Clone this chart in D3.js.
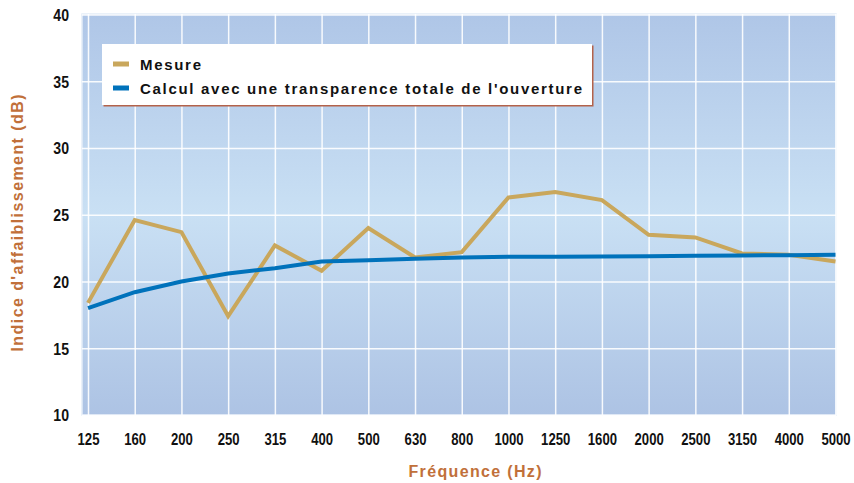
<!DOCTYPE html>
<html>
<head>
<meta charset="utf-8">
<script src="https://cdn.jsdelivr.net/npm/d3@7"></script>
<style>
  html, body { margin: 0; padding: 0; background: #ffffff; }
  svg { display: block; }
  text { font-family: "Liberation Sans", Arial, Helvetica, sans-serif; font-weight: bold; }
</style>
</head>
<body>
<svg id="chart" width="854" height="483"></svg>
<script>
// Third-octave band centre frequencies (Hz)
const frequencies = ["125", "160", "200", "250", "315", "400", "500", "630", "800",
  "1000", "1250", "1600", "2000", "2500", "3150", "4000", "5000"];

// Measured sound reduction index (dB)
const mesure = [18.4, 24.6, 23.7, 17.4, 22.7, 20.8, 24.0, 21.8, 22.2,
  26.3, 26.7, 26.1, 23.5, 23.3, 22.1, 22.0, 21.5];

// Calculated with full transparency of the opening (dB)
const calcul = [18.0, 19.2, 20.0, 20.6, 21.0, 21.5, 21.6, 21.7, 21.8,
  21.85, 21.85, 21.88, 21.9, 21.92, 21.95, 21.97, 22.0];

const yTicks = [10, 15, 20, 25, 30, 35, 40];

const seriesNames = ["Mesure", "Calcul avec une transparence totale de l'ouverture"];
const seriesColors = ["#C9A75C", "#0072BB"];

const svg = d3.select("#chart");
const plot = { left: 82, right: 836, top: 14, bottom: 415 };

const x = d3.scalePoint().domain(frequencies).range([88, 835.5]);
const y = d3.scaleLinear().domain([10, 40]).range([415, 14.5]);

// Background gradient of the plotting area
const defs = svg.append("defs");
const grad = defs.append("linearGradient")
  .attr("id", "bg").attr("x1", 0).attr("y1", 0).attr("x2", 0).attr("y2", 1);
grad.append("stop").attr("offset", "0%").attr("stop-color", "#AFC6E7");
grad.append("stop").attr("offset", "50%").attr("stop-color", "#C9E0F4");
grad.append("stop").attr("offset", "100%").attr("stop-color", "#ADC3E4");

svg.append("rect")
  .attr("x", plot.left).attr("y", plot.top)
  .attr("width", plot.right - plot.left).attr("height", plot.bottom - plot.top)
  .attr("fill", "url(#bg)")
  .attr("stroke", "#E4EDF8").attr("stroke-width", 1.5);

// Gridlines
svg.append("g")
  .attr("transform", `translate(0,${plot.bottom})`)
  .call(d3.axisBottom(x).tickSize(-(plot.bottom - plot.top)).tickFormat(""))
  .call(g => g.select(".domain").remove())
  .call(g => g.selectAll("line").attr("stroke", "#FFFFFF").attr("stroke-opacity", 0.9).attr("stroke-width", 1.5));

svg.append("g")
  .attr("transform", `translate(${plot.left},0)`)
  .call(d3.axisLeft(y).tickValues(yTicks).tickSize(-(plot.right - plot.left)).tickFormat(""))
  .call(g => g.select(".domain").remove())
  .call(g => g.selectAll("line").attr("stroke", "#FFFFFF").attr("stroke-opacity", 0.9).attr("stroke-width", 1.5));

// Condense bold labels horizontally
function condense(sel, factor) {
  sel.each(function () {
    const w = this.getComputedTextLength();
    d3.select(this).attr("textLength", w * factor).attr("lengthAdjust", "spacingAndGlyphs");
  });
}

// X axis labels
const xAxis = svg.append("g")
  .attr("transform", `translate(0,${plot.bottom})`)
  .call(d3.axisBottom(x).tickSize(0).tickPadding(0))
  .call(g => g.select(".domain").remove());
xAxis.selectAll("text")
  .attr("y", 29.5).attr("dy", 0)
  .attr("fill", "#111").style("font-size", "16px")
  .call(condense, 0.82);

// Y axis labels
const yAxis = svg.append("g")
  .attr("transform", "translate(69,0)")
  .call(d3.axisLeft(y).tickValues(yTicks).tickSize(0).tickPadding(0))
  .call(g => g.select(".domain").remove());
yAxis.selectAll("text")
  .attr("x", 0).attr("dy", "0.36em")
  .attr("fill", "#111").style("font-size", "16px")
  .call(condense, 0.88);

// Series lines
const line = d3.line().x((d, i) => x(frequencies[i])).y(d => y(d));
[mesure, calcul].forEach((vals, k) => {
  svg.append("path")
    .datum(vals)
    .attr("fill", "none")
    .attr("stroke", seriesColors[k])
    .attr("stroke-width", 4)
    .attr("stroke-linejoin", "miter")
    .attr("d", line);
});

// Legend
const legend = svg.append("g");
legend.append("rect")
  .attr("x", 103.5).attr("y", 45.5).attr("width", 490).attr("height", 61)
  .attr("fill", "#B3624A");
legend.append("rect")
  .attr("x", 102).attr("y", 44).attr("width", 490).attr("height", 61)
  .attr("fill", "#FFFFFF");
const legendWidths = [61, 442];
seriesNames.forEach((name, k) => {
  const yy = 64 + k * 24;
  legend.append("rect")
    .attr("x", 113).attr("y", yy - 2.5).attr("width", 16).attr("height", 5)
    .attr("fill", seriesColors[k]);
  legend.append("text")
    .attr("x", 140).attr("y", yy + 5.5)
    .attr("fill", "#111").style("font-size", "15px")
    .attr("textLength", legendWidths[k]).attr("lengthAdjust", "spacing")
    .text(name);
});

// Axis titles
svg.append("text")
  .attr("x", 475).attr("y", 476.5)
  .attr("text-anchor", "middle")
  .attr("fill", "#C1703A").style("font-size", "16px")
  .attr("textLength", 133).attr("lengthAdjust", "spacing")
  .text("Fréquence (Hz)");

svg.append("text")
  .attr("transform", "translate(23,223) rotate(-90)")
  .attr("text-anchor", "middle")
  .attr("fill", "#C1703A").style("font-size", "16px")
  .attr("textLength", 257).attr("lengthAdjust", "spacing")
  .text("Indice d'affaiblissement (dB)");
</script>
</body>
</html>
